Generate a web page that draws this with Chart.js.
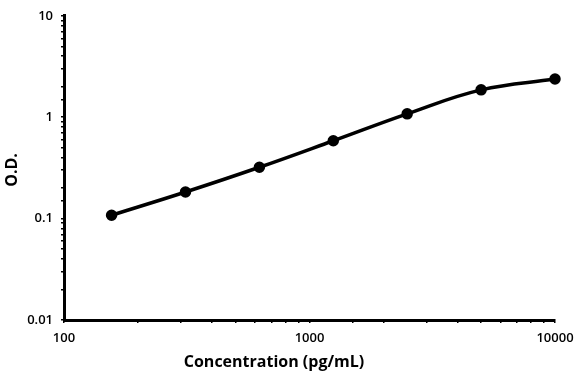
<!DOCTYPE html>
<html>
<head>
<meta charset="utf-8">
<script src="https://cdn.jsdelivr.net/npm/chart.js@4/dist/chart.umd.min.js"></script>
<style>
  html, body { margin: 0; padding: 0; background: #fff; }
  #wrap { width: 584px; height: 377px; position: relative; }
</style>
</head>
<body>
<div id="wrap"><canvas id="myChart"></canvas></div>
<script>
// standard curve values
const concentrations = [156.25, 312.5, 625, 1250, 2500, 5000, 10000];
const odValues = [0.108, 0.183, 0.321, 0.586, 1.08, 1.86, 2.38];

// labels shown at each power of ten
const xTickLabels = { 100: "100", 1000: "1000", 10000: "10000" };
const yTickLabels = { "-2": "0.01", "-1": "0.1", "0": "1", "1": "10" };

const xTitle = "Concentration (pg/mL)";
const yTitle = "O.D.";

const tickFont = { family: "'Open Sans', sans-serif", size: 13, weight: "600" };

function decade(v) {
  const l = Math.log10(v);
  return Math.abs(l - Math.round(l)) < 1e-6 ? Math.round(l) : null;
}

const ctx = document.getElementById("myChart").getContext("2d");

new Chart(ctx, {
  type: "line",
  data: {
    datasets: [
      {
        data: concentrations.map((c, i) => ({ x: c, y: odValues[i] })),
        borderColor: "#000",
        backgroundColor: "#000",
        borderWidth: 3.5,
        pointRadius: 4,
        pointHoverRadius: 4,
        tension: 0.4,
        clip: false,
      },
    ],
  },
  options: {
    responsive: true,
    maintainAspectRatio: false,
    animation: false,
    layout: {
      padding: { top: 13, right: 29, left: 0, bottom: 0 },
    },
    scales: {
      x: {
        type: "logarithmic",
        min: 100,
        max: 10000,
        border: { display: true, color: "#000", width: 3 },
        grid: {
          drawOnChartArea: false,
          drawTicks: true,
          tickLength: 3,
          color: "#000",
          lineWidth: 1.5,
        },
        ticks: {
          autoSkip: false,
          maxRotation: 0,
          padding: 7,
          color: "#000",
          font: tickFont,
          callback: (v) => {
            const d = decade(v);
            return d === null ? "" : xTickLabels[Math.pow(10, d)] || "";
          },
        },
        afterFit: (scale) => { scale.height = 57; },
      },
      y: {
        type: "logarithmic",
        min: 0.01,
        max: 10,
        border: { display: true, color: "#000", width: 3 },
        grid: {
          drawOnChartArea: false,
          drawTicks: true,
          tickLength: 3,
          color: "#000",
          lineWidth: 1.5,
        },
        ticks: {
          autoSkip: false,
          padding: 8,
          color: "#000",
          font: tickFont,
          callback: (v) => {
            const d = decade(v);
            return d === null ? "" : yTickLabels[d] || "";
          },
        },
        afterFit: (scale) => { scale.width = 64; },
      },
    },
    plugins: {
      legend: { display: false },
      tooltip: { enabled: false },
    },
  },
  plugins: [
    {
      id: "axisTitles",
      afterDraw(chart) {
        const c = chart.ctx;
        c.save();
        c.fillStyle = "#000";
        c.font = "bold 16px 'Open Sans', sans-serif";
        c.textAlign = "center";
        c.textBaseline = "middle";
        c.fillText(xTitle, 274, 362);
        c.translate(12, 170);
        c.rotate(-Math.PI / 2);
        c.fillText(yTitle, 0, 0);
        c.restore();
      },
    },
  ],
});
</script>
</body>
</html>
